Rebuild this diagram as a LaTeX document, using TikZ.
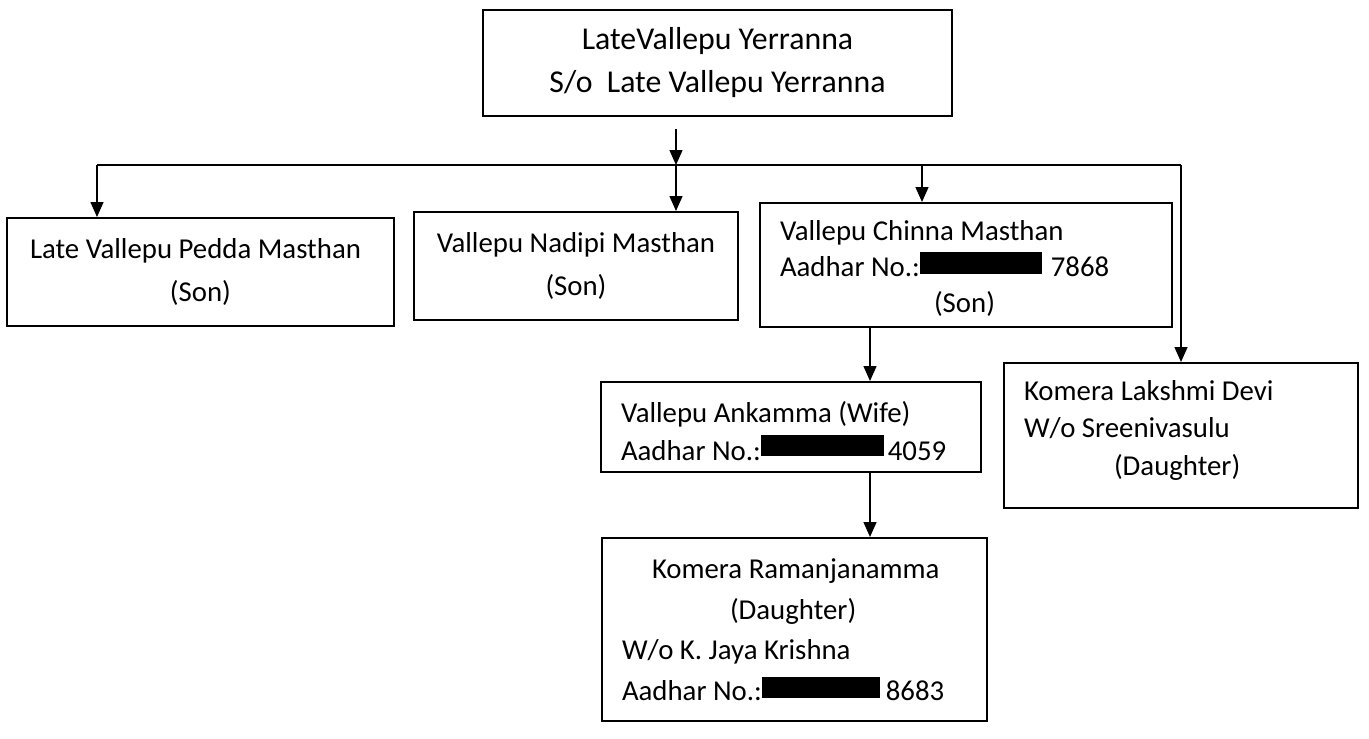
\documentclass[tikz,border=0pt]{standalone}
\usepackage{fontspec}
\setmainfont{Carlito}
\usetikzlibrary{arrows.meta,positioning}
\tikzset{
    %Define standard arrow tip
    >={Triangle[length=7.5pt,width=6.5pt]},
    %Define style for boxes
    member/.style={
           rectangle,
           draw=black, line width=1pt,
           inner xsep=10pt, inner ysep=0pt,
           font=\fontsize{14.4}{19}\selectfont},
    % Define arrow style
    pil/.style={
           ->,
           line width=0.75pt},
}

\begin{document}
\begin{tikzpicture}[x=0.5pt,y=-0.5pt]
\useasboundingbox (0,0) rectangle (1369,738);
 %nodes
\node[member, minimum width=234.5pt, minimum height=53pt, align=center,
  font=\fontsize{15.9}{21.5}\selectfont] (root) at (717.5,63)
  {LateVallepu Yerranna\\S/o\ \ Late Vallepu Yerranna};
\node[member, minimum width=193.5pt, minimum height=54pt, align=center,
  font=\fontsize{14.4}{21.5}\selectfont] (son1) at (200.5,272)
  {Late Vallepu Pedda Masthan\hspace*{5pt}\\(Son)};
\node[member, minimum width=162pt, minimum height=54pt, align=center,
  font=\fontsize{14.4}{21.5}\selectfont] (son2) at (576,266)
  {Vallepu Nadipi Masthan\\(Son)};
\node[member, text width=186pt, minimum height=62pt, align=flush left,
  font=\fontsize{14.4}{18}\selectfont] (son3) at (966,265)
  {\rule{0pt}{13.5pt}Vallepu Chinna Masthan\\Aadhar No.:\rule[1.5pt]{61pt}{11pt}\hspace{4.5pt}7868\\\hspace*{77pt}(Son)};
\node[member, text width=170pt, minimum height=45pt, align=flush left] (wife) at (791,427)
  {\rule{0pt}{14.5pt}Vallepu Ankamma (Wife)\\Aadhar No.:\rule[2pt]{61.5pt}{10.5pt}\hspace{2pt}4059};
\node[member, text width=172.5pt, minimum height=91.5pt, align=flush left,
  font=\fontsize{14.4}{20.3}\selectfont] (dtr1) at (794.5,629.5)
  {\hspace*{15pt}Komera Ramanjanamma\\\hspace*{54pt}(Daughter)\\W/o K. Jaya Krishna\\Aadhar No.:\rule[1pt]{59pt}{10.5pt}\hspace{3pt}8683};
\node[member, text width=157pt, minimum height=72.5pt, align=flush left,
  font=\fontsize{14.4}{18.75}\selectfont] (dtr2) at (1181,435.5)
  {Komera Lakshmi Devi\\W/o Sreenivasulu\\\hspace*{45pt}(Daughter)\rule[-8pt]{0pt}{0pt}};
 %bus
\coordinate (bus) at (676,165);
\coordinate (b1) at (97,165);
\coordinate (b3) at (922,165);
\coordinate (b4) at (dtr2.north |- bus);
\draw[line width=0.75pt] (b1) -- (b4);
 %arrows
\path[pil]
   ([yshift=-6pt]root.south -| bus) edge (bus)
   (b1) edge (b1 |- son1.north)
   (bus) edge (bus |- son2.north)
   (b3) edge (b3 |- son3.north)
   (b4) edge (dtr2.north)
   ([xshift=39.5pt]wife.north |- son3.south) edge ([xshift=39.5pt]wife.north)
   ([xshift=39.5pt]wife.south) edge ([xshift=39.5pt]wife.south |- dtr1.north);
\end{tikzpicture}
\end{document}
